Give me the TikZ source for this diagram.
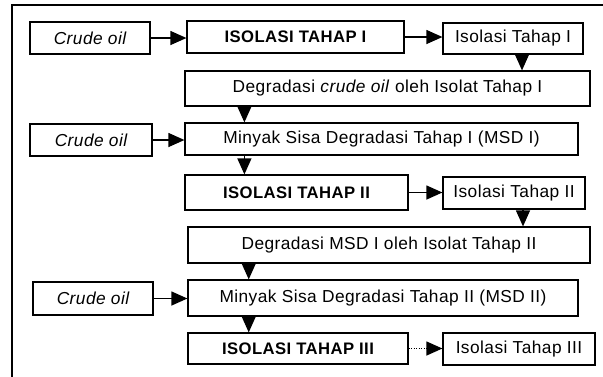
\documentclass[tikz,border=0pt]{standalone}
\usepackage{fontspec}
\setmainfont{Liberation Sans}[LetterSpace=2.5]
\usetikzlibrary{arrows.meta,calc}

\begin{document}
\begin{tikzpicture}[x=0.75pt,y=0.75pt,yscale=-1,xscale=1,
  box/.style={draw,line width=0.9pt,inner sep=0pt,align=center,font=\fontsize{13}{15}\selectfont},
  flow/.style={line width=0.9pt,-{Triangle[length=12pt,width=10.5pt]}},
  boldtxt/.style={font=\fontsize{12.5}{15}\selectfont\bfseries}]
\useasboundingbox (0,0) rectangle (603,376);

%Outer frame
\draw [line width=0.9pt] (12,380) -- (12,5) -- (606,5) ;

%Row 1
\node [box,minimum width=90pt,minimum height=24pt] (crude1) at (90,38) {\itshape Crude oil};
\node [box,boldtxt,minimum width=162.75pt,minimum height=24pt] (isoA) at (295.5,37) {ISOLASI TAHAP I};
\node [box,minimum width=105pt,minimum height=23.25pt] (islA) at (513,38.5) {Isolasi Tahap I};
\node [box,minimum width=303.75pt,minimum height=26.25pt] (degA) at (387.5,88.5) {Degradasi \textit{crude oil} oleh Isolat Tahap I};

%Row 2
\node [box,minimum width=91.5pt,minimum height=24pt] (crude2) at (91,140) {\itshape Crude oil};
\node [box,minimum width=294.75pt,minimum height=24pt] (msdA) at (381.5,139) {Minyak Sisa Degradasi Tahap I (MSD I)};
\node [box,boldtxt,minimum width=167.25pt,minimum height=26.25pt] (isoB) at (296.5,192.5) {ISOLASI TAHAP II};
\node [box,minimum width=106.5pt,minimum height=24pt] (islB) at (514,193) {Isolasi Tahap II};
\node [box,minimum width=301.5pt,minimum height=27pt] (degB) at (389,245) {Degradasi MSD I oleh Isolat Tahap II};

%Row 3
\node [box,minimum width=90pt,minimum height=24.75pt] (crude3) at (93,298.5) {\itshape Crude oil};
\node [box,minimum width=292.5pt,minimum height=27pt] (msdB) at (383,298) {Minyak Sisa Degradasi Tahap II (MSD II)};
\node [box,boldtxt,minimum width=165pt,minimum height=23.25pt] (isoC) at (298,348.5) {ISOLASI TAHAP III};
\node [box,minimum width=114pt,minimum height=24pt] (islC) at (519,349) {Isolasi Tahap III};

%Horizontal arrows
\draw [flow] (crude1) -- (crude1 -| isoA.west) ;
\draw [flow] (isoA) -- (isoA -| islA.west) ;
\draw [flow] (crude2) -- (crude2 -| msdA.west) ;
\draw [flow] (isoB) -- (isoB -| islB.west) ;
\draw [flow] (crude3) -- (crude3 -| msdB.west) ;
\draw [flow,densely dotted] (isoC) -- (isoC -| islC.west) ;

%Vertical arrows
\draw [flow] ([xshift=6.75pt]islA.south) -- ([xshift=6.75pt]islA.south |- degA.north) ;
\draw [flow] ([xshift=45pt]degA.south west) -- ([xshift=45pt]degA.south west |- msdA.north) ;
\draw [flow] ([xshift=45pt]msdA.south west) -- ([xshift=45pt]msdA.south west |- isoB.north) ;
\draw [flow] ([xshift=6.75pt]islB.south) -- ([xshift=6.75pt]islB.south |- degB.north) ;
\draw [flow] ([xshift=46pt]degB.south west) -- ([xshift=46pt]degB.south west |- msdB.north) ;
\draw [flow] ([xshift=46pt]msdB.south west) -- ([xshift=46pt]msdB.south west |- isoC.north) ;
\end{tikzpicture}
\end{document}
